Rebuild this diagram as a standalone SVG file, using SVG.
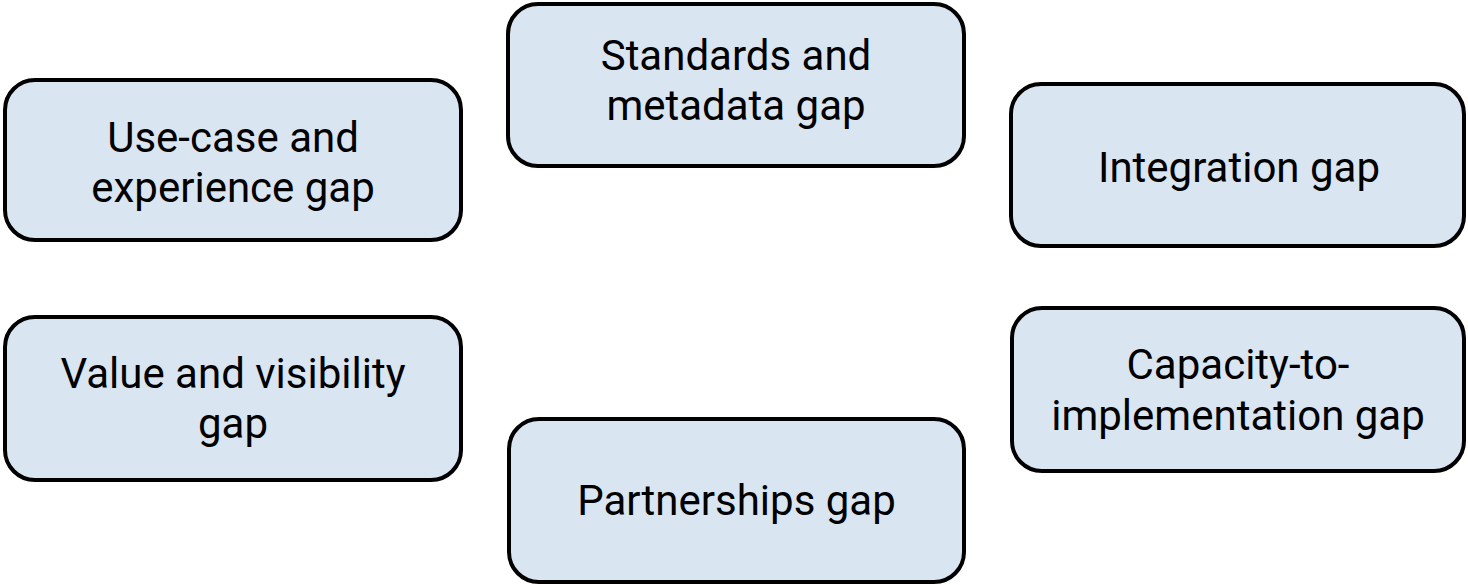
<svg xmlns="http://www.w3.org/2000/svg" width="1468" height="585" viewBox="0 0 1468 585">
<style>
.box{fill:#dae5f2;stroke:#000;stroke-width:4}
.lbl{font-family:Roboto,"Liberation Sans",sans-serif;font-size:42px;fill:#000;text-anchor:middle}
</style>
<rect width="1468" height="585" fill="#fff"/>
<g id="connectors"></g>
<g id="use-case">
<rect class="box" x="5" y="80" width="456" height="160" rx="30"/>
<text class="lbl" x="233" y="151.5">Use-case and</text>
<text class="lbl" x="233" y="201.5">experience gap</text>
</g>
<g id="standards">
<rect class="box" x="508" y="4" width="456" height="162" rx="30"/>
<text class="lbl" x="736" y="70">Standards and</text>
<text class="lbl" x="736" y="119.5">metadata gap</text>
</g>
<g id="integration">
<rect class="box" x="1011" y="84" width="453" height="162" rx="30"/>
<text class="lbl" x="1239" y="181.5">Integration gap</text>
</g>
<g id="value">
<rect class="box" x="5" y="317" width="456" height="163" rx="30"/>
<text class="lbl" x="233" y="388">Value and visibility</text>
<text class="lbl" x="233" y="437.5">gap</text>
</g>
<g id="partnerships">
<rect class="box" x="509" y="419" width="455" height="163" rx="30"/>
<text class="lbl" x="736.5" y="515">Partnerships gap</text>
</g>
<g id="capacity">
<rect class="box" x="1012" y="308" width="452" height="163" rx="30"/>
<text class="lbl" x="1238" y="378.5">Capacity-to-</text>
<text class="lbl" x="1238" y="429.5">implementation gap</text>
</g>
</svg>
